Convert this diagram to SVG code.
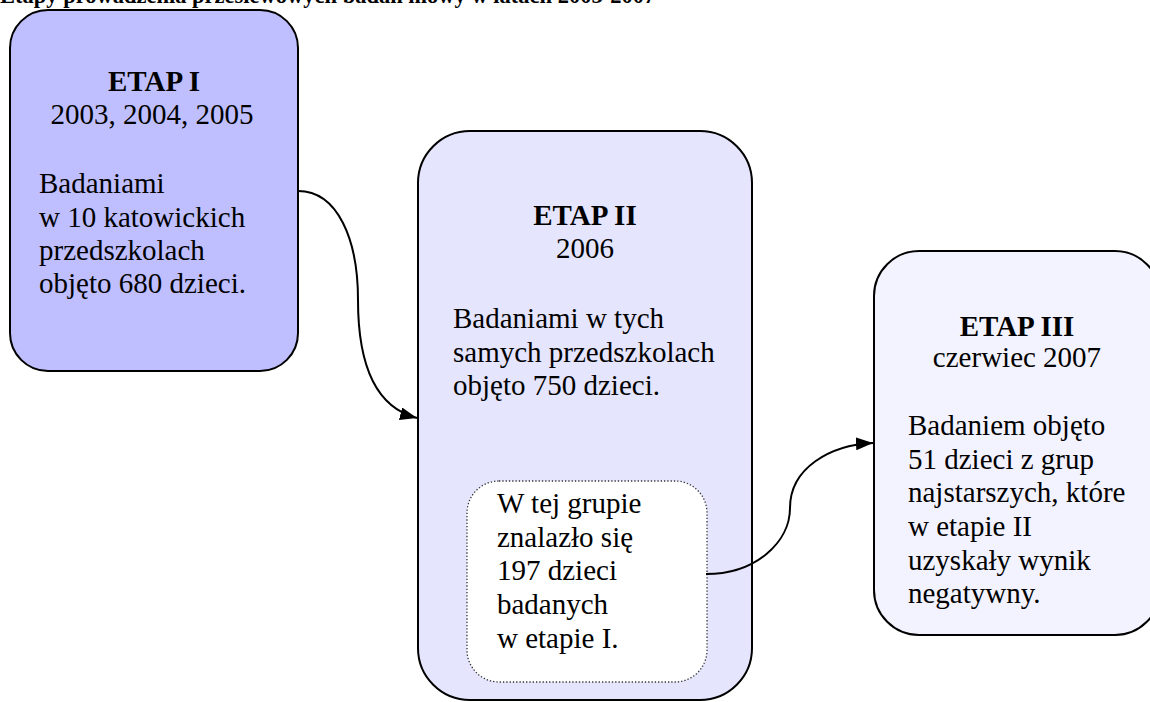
<svg xmlns="http://www.w3.org/2000/svg" width="1150" height="702" viewBox="0 0 1150 702">
  <style>
    .box { stroke: #000; stroke-width: 2; }
    .inner { fill: #fff; stroke: #333; stroke-width: 1.3; stroke-dasharray: 1.3 2; }
    .t { font-family: "Liberation Serif", "Times New Roman", Tinos, "Nimbus Roman", "DejaVu Serif", serif; font-size: 29px; font-weight: normal; font-style: normal; fill: #000; }
    .h { font-weight: bold; }
    .c { text-anchor: middle; }
    .title { font-family: "Liberation Serif", "Times New Roman", serif; font-size: 22.5px; font-weight: bold; fill: #000; }
    .link { fill: none; stroke: #000; stroke-width: 2; }
  </style>
  <defs>
    <marker id="arrowhead" viewBox="0 0 10 10" refX="10" refY="5" markerWidth="17" markerHeight="13" markerUnits="userSpaceOnUse" orient="auto" preserveAspectRatio="none">
      <path d="M0,0 L10,5 L0,10 Z" fill="#000"/>
    </marker>
  </defs>

  <rect width="1150" height="702" fill="#fff"/>

  <text class="title" x="0" y="3">Etapy prowadzenia przesiewowych badań mowy w latach 2003-2007</text>

  <g id="etap1">
    <rect class="box" x="10" y="10" width="288" height="361" rx="38" ry="38" fill="#bfbfff"/>
    <text class="t h c" x="154" y="91">ETAP I</text>
    <text class="t c" x="152" y="124">2003, 2004, 2005</text>
    <text class="t" x="39" y="193">Badaniami</text>
    <text class="t" x="39" y="227">w 10 katowickich</text>
    <text class="t" x="39" y="260">przedszkolach</text>
    <text class="t" x="39" y="293">objęto 680 dzieci.</text>
  </g>

  <g id="etap2">
    <rect class="box" x="418" y="131" width="334" height="569" rx="52" ry="52" fill="#e5e5fd"/>
    <text class="t h c" x="585" y="225">ETAP II</text>
    <text class="t c" x="585" y="258">2006</text>
    <text class="t" x="453" y="328">Badaniami w tych</text>
    <text class="t" x="453" y="362">samych przedszkolach</text>
    <text class="t" x="453" y="395">objęto 750 dzieci.</text>
  </g>

  <g id="grupa">
    <rect class="inner" x="467" y="481" width="240" height="201" rx="32" ry="32"/>
    <text class="t" x="497" y="513">W tej grupie</text>
    <text class="t" x="497" y="547">znalazło się</text>
    <text class="t" x="497" y="580">197 dzieci</text>
    <text class="t" x="497" y="614">badanych</text>
    <text class="t" x="497" y="648">w etapie I.</text>
  </g>

  <g id="etap3">
    <rect class="box" x="874" y="251" width="286" height="384" rx="45" ry="45" fill="#f3f3ff"/>
    <text class="t h c" x="1017" y="336">ETAP III</text>
    <text class="t c" x="1017" y="367">czerwiec 2007</text>
    <text class="t" x="908" y="435">Badaniem objęto</text>
    <text class="t" x="908" y="469">51 dzieci z grup</text>
    <text class="t" x="908" y="502">najstarszych, które</text>
    <text class="t" x="908" y="536">w etapie II</text>
    <text class="t" x="908" y="570">uzyskały wynik</text>
    <text class="t" x="908" y="603">negatywny.</text>
  </g>

  <g id="connectors">
    <path class="link" d="M298,191 C338,191 358,240 358,300 C358,370 378,408 417,418" marker-end="url(#arrowhead)"/>
    <path class="link" d="M706,574 C756,574 790,542 790,508 C790,468 830,445 873,443" marker-end="url(#arrowhead)"/>
  </g>
</svg>
